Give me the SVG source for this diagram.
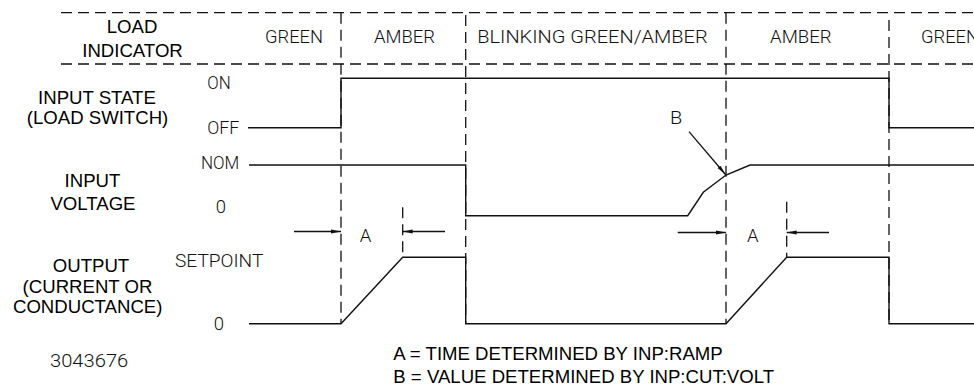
<svg xmlns="http://www.w3.org/2000/svg" width="974" height="387" viewBox="0 0 974 387">
<style>
.bg{fill:#fff}
.sig{fill:none;stroke:#111;stroke-width:1.4;stroke-linejoin:miter}
.dash{fill:none;stroke:#111;stroke-width:1.3;stroke-dasharray:11 6}
.dim{fill:none;stroke:#111;stroke-width:1.3}
.lbl{font-family:"Liberation Sans",Arial,sans-serif;font-size:18.6px;fill:#000;text-anchor:middle}
.note{font-family:"Liberation Sans",Arial,sans-serif;font-size:18.6px;fill:#000}
.cad{font-family:Roboto,"DejaVu Sans",sans-serif;font-weight:300;font-size:18.5px;fill:#111}
</style>
<defs>
<marker id="ah" markerUnits="userSpaceOnUse" markerWidth="11" markerHeight="5" refX="10" refY="2.5" orient="auto">
<path d="M0,0.6 L10,2.5 L0,4.4 z" fill="#111"/>
</marker>
</defs>
<rect class="bg" width="974" height="387"/>
<g id="grid">
<line class="dash" x1="61" y1="12.7" x2="974" y2="12.7"/>
<line class="dash" x1="61" y1="64" x2="974" y2="64"/>
<line class="dash" x1="341" y1="12.7" x2="341" y2="323.7"/>
<line class="dash" x1="465.7" y1="15" x2="465.7" y2="323.7"/>
<line class="dash" x1="726" y1="12.7" x2="726" y2="323.7"/>
<line class="dash" x1="889" y1="20" x2="889" y2="323.7"/>
<line class="dash" x1="402.7" y1="207.3" x2="402.7" y2="257.3"/>
<line class="dash" x1="786.7" y1="201.7" x2="786.7" y2="257.3"/>
</g>
<g id="indicator-labels">
<text class="lbl" x="132" y="33.3">LOAD</text>
<text class="lbl" x="132.5" y="56.7">INDICATOR</text>
<text class="cad" x="265" y="42.7" textLength="58" lengthAdjust="spacingAndGlyphs">GREEN</text>
<text class="cad" x="374" y="42.7" textLength="61" lengthAdjust="spacingAndGlyphs">AMBER</text>
<text class="cad" x="477.3" y="42.7" textLength="230.4" lengthAdjust="spacingAndGlyphs">BLINKING GREEN/AMBER</text>
<text class="cad" x="770" y="42.7" textLength="61.7" lengthAdjust="spacingAndGlyphs">AMBER</text>
<text class="cad" x="921" y="42.7" textLength="58" lengthAdjust="spacingAndGlyphs">GREEN</text>
</g>
<g id="input-state">
<text class="lbl" x="97" y="104">INPUT STATE</text>
<text class="lbl" x="97.5" y="124">(LOAD SWITCH)</text>
<text class="cad" x="207.3" y="89.3" textLength="23.4" lengthAdjust="spacingAndGlyphs">ON</text>
<text class="cad" x="207.3" y="134.3" textLength="32" lengthAdjust="spacingAndGlyphs">OFF</text>
<path class="sig" d="M248,127.7 H341 V78.3 H889 V127.7 H974"/>
</g>
<g id="input-voltage">
<text class="lbl" x="92.5" y="187.3">INPUT</text>
<text class="lbl" x="93" y="210">VOLTAGE</text>
<text class="cad" x="201" y="169" textLength="38.3" lengthAdjust="spacingAndGlyphs">NOM</text>
<text class="cad" x="221" y="213" text-anchor="middle">0</text>
<path class="sig" d="M249,165 H465.7 V215.7 H687.7 L703.3,192.3 L726,175 L750,165 H974"/>
<text class="cad" x="670" y="124.3" textLength="12.3" lengthAdjust="spacingAndGlyphs">B</text>
<line class="dim" x1="689" y1="131.7" x2="725.5" y2="174.5" marker-end="url(#ah)"/>
</g>
<g id="output">
<text class="lbl" x="91" y="271.7">OUTPUT</text>
<text class="lbl" x="87.5" y="293.3">(CURRENT OR</text>
<text class="lbl" x="87.7" y="313.3">CONDUCTANCE)</text>
<text class="cad" x="175" y="266.7" textLength="88.3" lengthAdjust="spacingAndGlyphs">SETPOINT</text>
<text class="cad" x="219" y="330" text-anchor="middle">0</text>
<path class="sig" d="M249,323.7 H341 L402.7,257.3 H465.7 V323.7 H726 L786.7,257.3 H889 V323.7 H974"/>
</g>
<g id="connectors">
<line class="dim" x1="294" y1="231.5" x2="341" y2="231.5" marker-end="url(#ah)"/>
<line class="dim" x1="445" y1="231.5" x2="402.7" y2="231.5" marker-end="url(#ah)"/>
<line class="dim" x1="677.7" y1="232.5" x2="726" y2="232.5" marker-end="url(#ah)"/>
<line class="dim" x1="829" y1="232.5" x2="786.7" y2="232.5" marker-end="url(#ah)"/>
<text class="cad" x="365.5" y="241.7" text-anchor="middle">A</text>
<text class="cad" x="752.7" y="242.3" text-anchor="middle">A</text>
</g>
<g id="notes">
<text class="cad" x="50" y="366.7" textLength="78.3" lengthAdjust="spacingAndGlyphs">3043676</text>
<text class="note" x="393.3" y="360">A = TIME DETERMINED BY INP:RAMP</text>
<text class="note" x="393.3" y="383.3">B = VALUE DETERMINED BY INP:CUT:VOLT</text>
</g>
</svg>
